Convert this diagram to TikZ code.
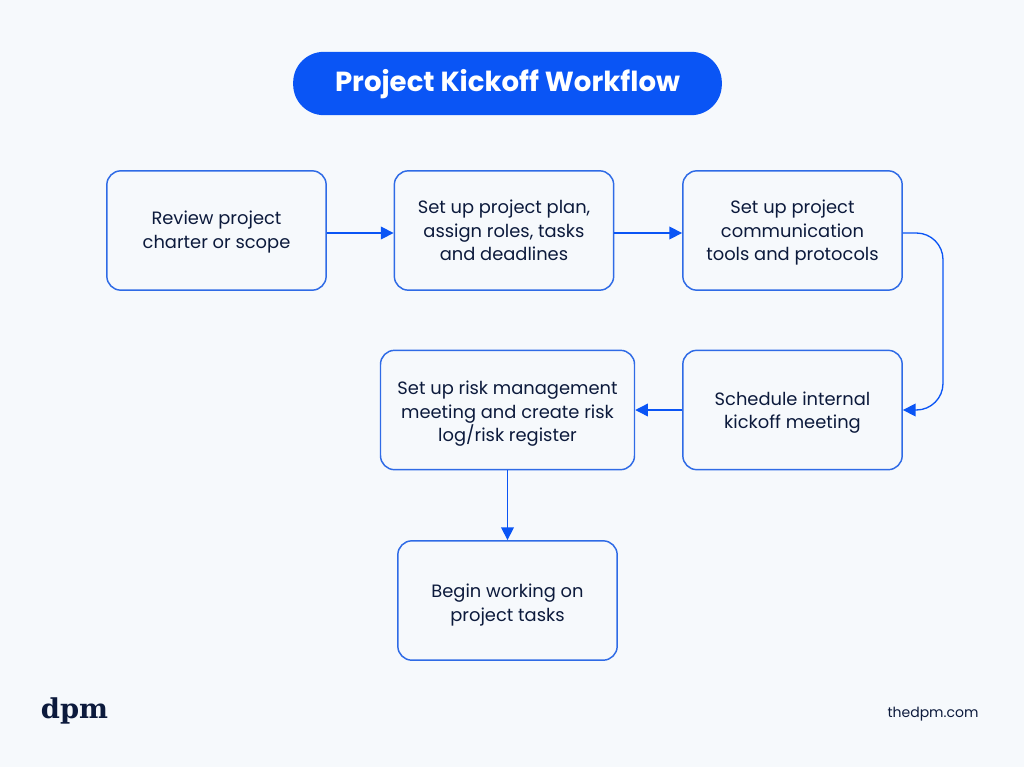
\documentclass[tikz,border=0pt]{standalone}
\usepackage{fontspec}
\setmainfont{Poppins}
\newfontfamily\logofont{DejaVu Serif}
\usetikzlibrary{arrows.meta, calc, positioning}
\definecolor{pagebg}{HTML}{F6F9FC}
\definecolor{dpmblue}{HTML}{0A55F5}
\definecolor{dpmline}{HTML}{2F6BE6}
\definecolor{dpmink}{HTML}{0C1A3C}
\newcommand{\lifted}[1]{\rule{0pt}{#1}}
\tikzset{
    stepbox/.style={draw=dpmline, line width=1.1pt, rounded corners=10.5pt, text=dpmink, align=center,
        minimum width=164.5pt, minimum height=89.5pt, inner sep=0pt, font=\fontsize{13.4}{17.8}\selectfont},
    flow/.style={draw=dpmblue, line width=1pt, -{Triangle[length=9.5pt, width=9.5pt]}}
}

\begin{document}
\begin{tikzpicture}[x=0.75pt, y=-0.75pt]
    \useasboundingbox[fill=pagebg] (0, 0) rectangle (1024, 767);

    \node (title) at (507.5, 83.5) [fill=dpmblue, rounded corners=23pt, minimum width=321.5pt, minimum height=47.5pt,
        inner sep=0pt, text=white, font=\fontsize{20.7}{24}\selectfont\bfseries] {\lifted{17pt}Project Kickoff Workflow};

    \node[stepbox] (review) at (216.5, 230.5) {\lifted{13pt}Review project\\charter or scope};
    \node[stepbox] (plan) at (504, 230.5) {Set up project plan,\\assign roles, tasks\\and deadlines};
    \node[stepbox] (tools) at (792.5, 230.5) {\lifted{13.5pt}Set up project\\communication\\tools and protocols};
    \node[stepbox] (kickoff) at (792.5, 410) {\lifted{14pt}Schedule internal\\kickoff meeting};
    \node[stepbox, minimum width=190.5pt] (risk) at (507.5, 410) {\lifted{16pt}Set up risk management\\meeting and create risk\\log/risk register};
    \node[stepbox] (begin) at (507.5, 600.5) {\lifted{17pt}Begin working on\\project tasks};

    \coordinate (bend) at (943, 233);

    \draw[flow] ($(review.east)+(0, 2.5)$) -- ($(plan.west)+(0, 2.5)$);
    \draw[flow] ($(plan.east)+(0, 2.5)$) -- ($(tools.west)+(0, 2.5)$);
    \draw[flow, rounded corners=20pt] ($(tools.east)+(0, 2.5)$) -- (bend) -- (bend |- kickoff.east) -- (kickoff.east);
    \draw[flow] (kickoff.west) -- (risk.east);
    \draw[flow] (risk.south) -- (begin.north);

    \node (logo) at (74.5, 711) [text=dpmink, font=\logofont\fontsize{20.5}{24}\selectfont\bfseries] {dpm};
    \node (site) at (933, 714.5) [text=dpmink, font=\fontsize{10.5}{13}\selectfont] {thedpm.com};
\end{tikzpicture}
\end{document}
